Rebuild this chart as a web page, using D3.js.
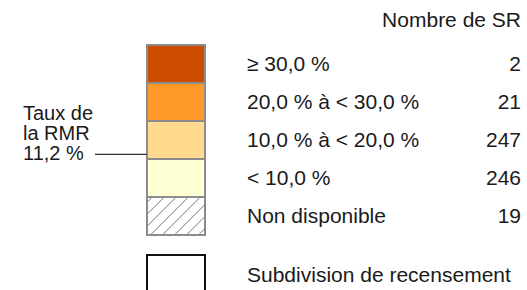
<!DOCTYPE html>
<html>
<head>
<meta charset="utf-8">
<script src="https://cdn.jsdelivr.net/npm/d3@7"></script>
<style>
  body { margin: 0; background: #fff; }
  text { font-family: "Liberation Sans", Arial, sans-serif; fill: #1a1a1a; }
</style>
</head>
<body>
<div id="legend_chart"></div>
<script>
// legend classes, top to bottom
var classLabels = ["≥ 30,0 %", "20,0 % à < 30,0 %", "10,0 % à < 20,0 %", "< 10,0 %", "Non disponible"]
var classCounts = [2, 21, 247, 246, 19]
var classColors = ["#cc4c02", "#fe9929", "#fed98e", "#ffffd4", "hatch"]
var rmrValue = 11.2
var rmrLines = ["Taux de", "la RMR", "11,2 %"]

var width = 527
var height = 290

var svg = d3.select("#legend_chart")
    .append("svg")
    .attr("width", width)
    .attr("height", height)

// hatch for "Non disponible"
var defs = svg.append("defs")
var pat = defs.append("pattern")
    .attr("id", "hatch")
    .attr("patternUnits", "userSpaceOnUse")
    .attr("width", 8.5)
    .attr("height", 8.5)
    .attr("patternTransform", "rotate(45)")
pat.append("rect").attr("width", 8.5).attr("height", 8.5).attr("fill", "#fff")
pat.append("line")
    .attr("x1", 0).attr("y1", 0).attr("x2", 0).attr("y2", 8.5)
    .attr("stroke", "#858585").attr("stroke-width", 1.7)

var boxX = 147, boxW = 58, rowH = 38, boxTop = 45

// rows
var row = d3.scaleBand()
    .domain(d3.range(classLabels.length))
    .range([boxTop, boxTop + rowH * classLabels.length])

// percentage scale along the coloured boxes (4 classes of 10 points)
var pct = d3.scaleLinear()
    .domain([0, 40])
    .range([boxTop + rowH * 4, boxTop])

svg.append("g")
    .selectAll("rect")
    .data(classLabels)
    .enter()
    .append("rect")
    .attr("x", boxX)
    .attr("y", (d, i) => row(i))
    .attr("width", boxW)
    .attr("height", row.bandwidth())
    .attr("fill", (d, i) => classColors[i] == "hatch" ? "url(#hatch)" : classColors[i])
    .attr("stroke", "#8c8c8c")
    .attr("stroke-width", 2)

var fs = 21

svg.append("text")
    .attr("x", 521)
    .attr("y", 27)
    .attr("text-anchor", "end")
    .style("font-size", fs + "px")
    .text("Nombre de SR")

svg.append("g")
    .selectAll("text")
    .data(classLabels)
    .enter()
    .append("text")
    .attr("x", 247)
    .attr("y", (d, i) => row(i) + row.bandwidth() / 2 + 7)
    .style("font-size", fs + "px")
    .text(d => d)

svg.append("g")
    .selectAll("text")
    .data(classCounts)
    .enter()
    .append("text")
    .attr("x", 521)
    .attr("y", (d, i) => row(i) + row.bandwidth() / 2 + 7)
    .attr("text-anchor", "end")
    .style("font-size", fs + "px")
    .text(d => d)

// RMR marker
var ry = pct(rmrValue)
svg.append("line")
    .attr("x1", 95).attr("x2", boxX)
    .attr("y1", ry).attr("y2", ry)
    .attr("stroke", "#333").attr("stroke-width", 1.3)

svg.append("g")
    .selectAll("text")
    .data(rmrLines)
    .enter()
    .append("text")
    .attr("x", 23)
    .attr("y", (d, i) => ry + 6 - (rmrLines.length - 1 - i) * 20)
    .style("font-size", "20px")
    .text(d => d)

// census subdivision boundary
svg.append("rect")
    .attr("x", boxX)
    .attr("y", 255)
    .attr("width", boxW)
    .attr("height", 60)
    .attr("fill", "none")
    .attr("stroke", "#111")
    .attr("stroke-width", 2)

svg.append("text")
    .attr("x", 247)
    .attr("y", 282)
    .style("font-size", fs + "px")
    .text("Subdivision de recensement")
</script>
</body>
</html>
